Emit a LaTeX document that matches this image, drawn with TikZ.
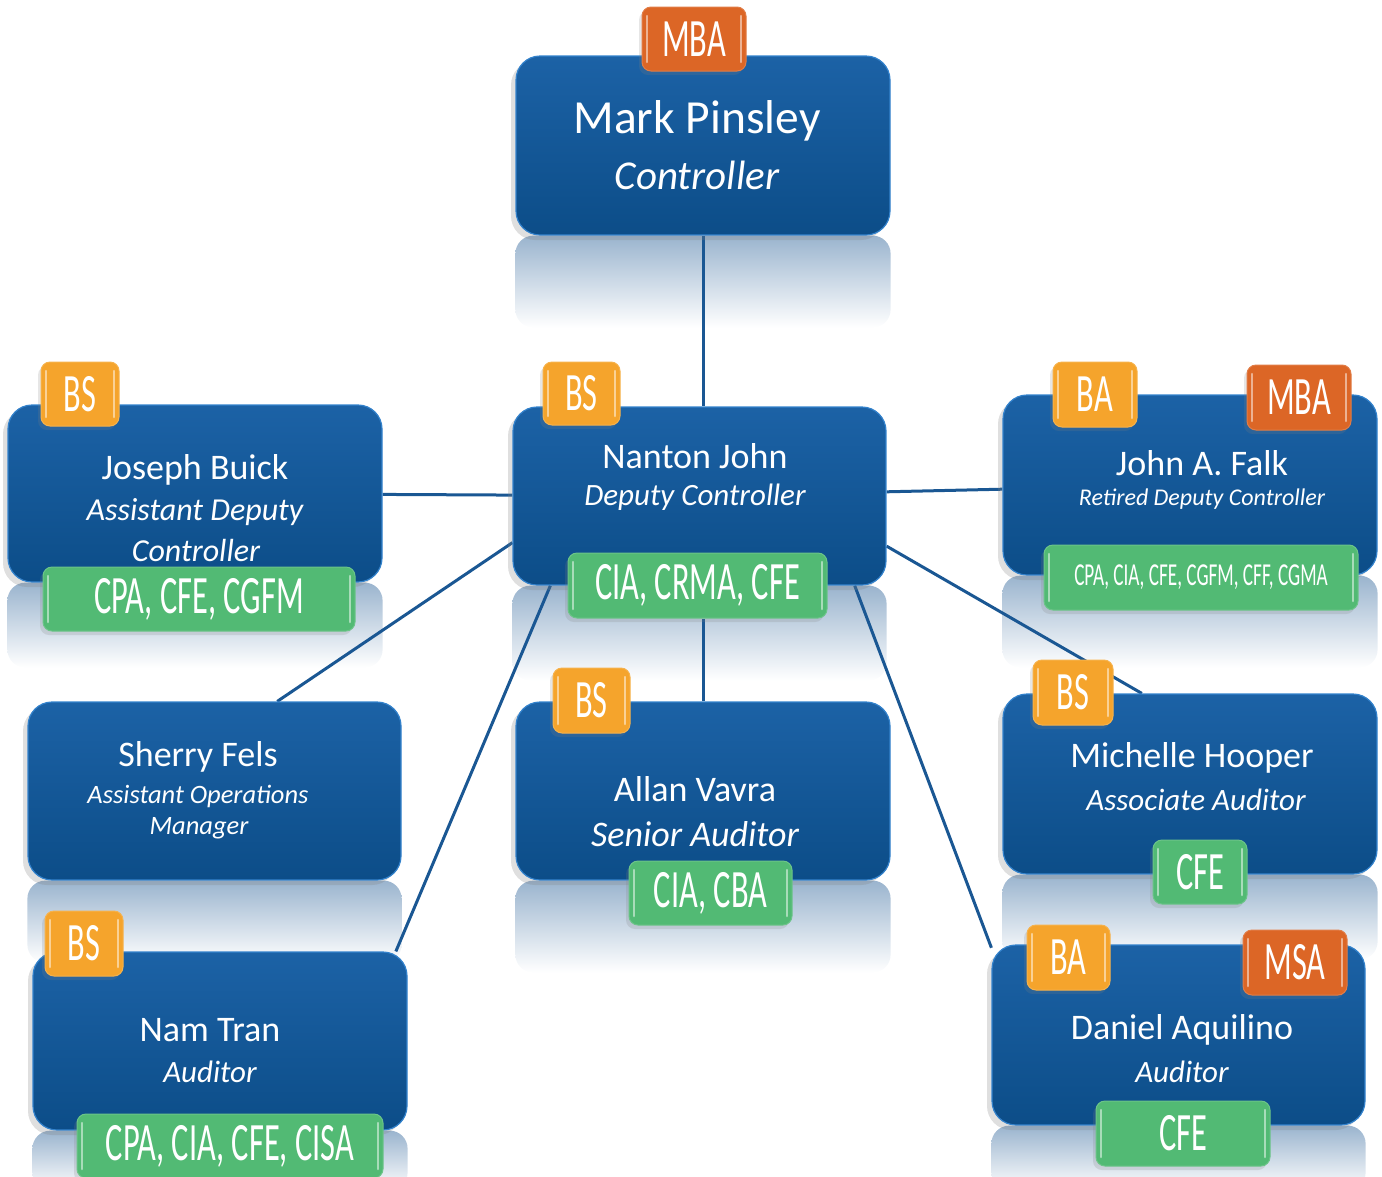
\documentclass[tikz,border=0pt]{standalone}
\usepackage{fontspec}
\setmainfont{Carlito}
\usepackage{graphicx}
\usetikzlibrary{shadows,calc}
\definecolor{boxtop}{HTML}{1C62A6}
\definecolor{boxbot}{HTML}{0C4D88}
\definecolor{boxedge}{HTML}{3382CC}
\definecolor{lineblue}{HTML}{1A5793}
\definecolor{orangeb}{HTML}{DC6626}
\definecolor{yellowb}{HTML}{F5A42C}
\definecolor{greenb}{HTML}{52BA74}
\definecolor{refl}{HTML}{9AB4CE}
\pgfdeclarelayer{bg}\pgfsetlayers{bg,main}
\newcommand\cond[1]{\scalebox{0.6}[1]{#1}}
\begin{document}
\begin{tikzpicture}[x=1pt,y=-1pt,
  person/.style={rectangle, rounded corners=24pt, draw=boxedge, line width=1.2pt,
    top color=boxtop, bottom color=boxbot, inner sep=0pt,
    drop shadow={opacity=0.25, shadow xshift=-5pt, shadow yshift=-5pt}},
  badge/.style={rectangle, rounded corners=9pt, fill=#1, draw=#1!85!white, line width=1pt,
    text=white, font=\fontsize{54}{54}\selectfont, inner sep=0pt,
    drop shadow={opacity=0.2, shadow xshift=-3pt, shadow yshift=-4pt},
    path picture={
      \draw[white,opacity=0.5,line width=2.5pt,line cap=round]
        ([xshift=5pt,yshift=-9pt]path picture bounding box.north west) --
        ([xshift=5pt,yshift=9pt]path picture bounding box.south west);
      \draw[white,opacity=0.5,line width=2.5pt,line cap=round]
        ([xshift=-5pt,yshift=-9pt]path picture bounding box.north east) --
        ([xshift=-5pt,yshift=9pt]path picture bounding box.south east);}},
  pname/.style={text=white, font=\fontsize{36}{40}\selectfont, inner sep=0pt},
  ptitle/.style={text=white, font=\itshape\fontsize{31}{34}\selectfont, inner sep=0pt},
  conn/.style={draw=lineblue, line width=3pt},
  reflbox/.style={top color=refl, bottom color=white, rounded corners=18pt}
]
\useasboundingbox (0,0) rectangle (1382,1176);

% ---------- person boxes ----------
\node[person, minimum width=374pt, minimum height=179pt] (mark) at (703,145.5) {};
\node[person, minimum width=373pt, minimum height=178pt] (nanton) at (699.5,496) {};
\node[person, minimum width=374pt, minimum height=177pt] (joseph) at (195,493.5) {};
\node[person, minimum width=374pt, minimum height=180pt] (falk) at (1190,485) {};
\node[person, minimum width=373pt, minimum height=178pt] (sherry) at (214.5,791) {};
\node[person, minimum width=374pt, minimum height=178pt] (allan) at (703,791) {};
\node[person, minimum width=374pt, minimum height=180pt] (michelle) at (1190,784) {};
\node[person, minimum width=374pt, minimum height=178pt] (nam) at (220,1041) {};
\node[person, minimum width=373pt, minimum height=180pt] (daniel) at (1178.5,1035) {};

% ---------- texts ----------
\node[pname, font=\fontsize{47.5}{50}\selectfont] (markN) at (697,121) {Mark Pinsley};
\node[ptitle, font=\itshape\fontsize{41}{44}\selectfont] (markT) at (697,175) {Controller};

\node[pname] (nantonN) at (695,456) {Nanton John};
\node[ptitle] (nantonT) at (695,497) {Deputy Controller};

\node[pname] (josephN) at (195,470) {Joseph Buick};
\node[ptitle, font=\itshape\fontsize{32}{34}\selectfont] (josephT1) at (195,512) {Assistant Deputy};
\node[ptitle, font=\itshape\fontsize{32}{34}\selectfont] (josephT2) at (196,550) {Controller};

\node[pname] (falkN) at (1202,463) {John A. Falk};
\node[ptitle, font=\itshape\fontsize{24}{26}\selectfont] (falkT) at (1202,499) {Retired Deputy Controller};

\node[pname] (sherryN) at (198,757) {Sherry Fels};
\node[ptitle, font=\itshape\fontsize{26.5}{28}\selectfont] (sherryT1) at (198,796) {Assistant Operations};
\node[ptitle, font=\itshape\fontsize{26.5}{28}\selectfont] (sherryT2) at (199,828) {Manager};

\node[pname] (allanN) at (695,789) {Allan Vavra};
\node[ptitle, font=\itshape\fontsize{36}{38}\selectfont] (allanT) at (695,834) {Senior Auditor};

\node[pname] (michelleN) at (1192,758) {Michelle Hooper};
\node[ptitle] (michelleT) at (1196,800) {Associate Auditor};

\node[pname] (namN) at (210,1030) {Nam Tran};
\node[ptitle] (namT) at (210,1072) {Auditor};

\node[pname] (danielN) at (1182,1030) {Daniel Aquilino};
\node[ptitle] (danielT) at (1182,1072) {Auditor};

% ---------- badges ----------
\node[badge=orangeb, minimum width=104pt, minimum height=64pt] (markmba) at (694,39) {\cond{MBA}};

\node[badge=yellowb, minimum width=78pt, minimum height=64pt] (josephbs) at (80,394) {\cond{BS}};
\node[badge=greenb, minimum width=312pt, minimum height=64pt] (josephcred) at (199,599) {\cond{CPA, CFE, CGFM}};

\node[badge=yellowb, minimum width=77pt, minimum height=63pt] (nantonbs) at (581.5,393.5) {\cond{BS}};
\node[badge=greenb, minimum width=259pt, minimum height=65pt] (nantoncred) at (697.5,585.5) {\cond{CIA, CRMA, CFE}};

\node[badge=yellowb, minimum width=84pt, minimum height=65pt] (falkba) at (1095,394.5) {\cond{BA}};
\node[badge=orangeb, minimum width=104pt, minimum height=65pt] (falkmba) at (1299,397.5) {\cond{MBA}};
\node[badge=greenb, minimum width=314pt, minimum height=65pt, font=\fontsize{32}{32}\selectfont] (falkcred) at (1201,577.5) {\cond{CPA,\ CIA,\ CFE,\ CGFM,\ CFF,\ CGMA}};

\node[badge=yellowb, minimum width=77pt, minimum height=65pt] (allanbs) at (591.5,700.5) {\cond{BS}};
\node[badge=greenb, minimum width=163pt, minimum height=64pt] (allancred) at (710.5,893) {\cond{CIA, CBA}};

\node[badge=yellowb, minimum width=80pt, minimum height=65pt] (michellebs) at (1073,692.5) {\cond{BS}};
\node[badge=greenb, minimum width=94pt, minimum height=64pt] (michellecred) at (1200,872) {\cond{CFE}};

\node[badge=yellowb, minimum width=78pt, minimum height=65pt] (nambs) at (84,943.5) {\cond{BS}};
\node[badge=greenb, minimum width=306pt, minimum height=64pt] (namcred) at (230,1146) {\cond{CPA, CIA, CFE, CISA}};

\node[badge=yellowb, minimum width=83pt, minimum height=65pt] (danielba) at (1068.5,957.5) {\cond{BA}};
\node[badge=orangeb, minimum width=104pt, minimum height=65pt] (danielmsa) at (1295,962.5) {\cond{MSA}};
\node[badge=greenb, minimum width=174pt, minimum height=65pt] (danielcred) at (1183,1133.5) {\cond{CFE}};

% ---------- reflections and connectors (behind) ----------
\begin{pgfonlayer}{bg}
  \foreach \n/\h in {mark/92, nanton/95, joseph/85, falk/92, sherry/82, allan/92, michelle/85, nam/60, daniel/65}
    \shade[reflbox] (\n.south west) rectangle ($(\n.south east)+(0,\h)$);

  \draw[conn] (mark.south) -- (mark.south |- nanton.north);
  \draw[conn] (nanton) -- (joseph);
  \draw[conn] (nanton) -- (falk);
  \draw[conn] (nanton.194) -- (sherry.55);
  \draw[conn] (nanton.211) -- (nam.27);
  \draw[conn] (allan.north) -- (allan.north |- nantoncred.south);
  \draw[conn] (nanton.345) -- (michelle.118);
  \draw[conn] (nanton.330) -- (daniel.155);
\end{pgfonlayer}
\end{tikzpicture}
\end{document}
